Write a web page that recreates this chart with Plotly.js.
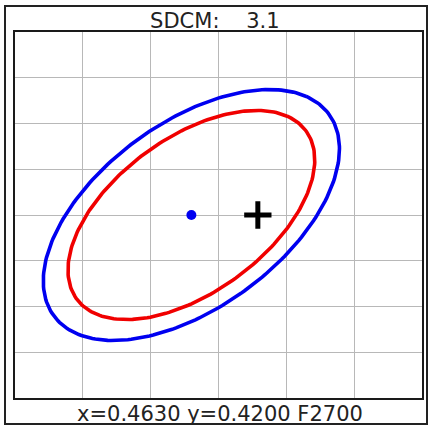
<!DOCTYPE html>
<html>
<head>
<meta charset="utf-8">
<script src="https://cdn.plot.ly/plotly-3.0.1.min.js"></script>
<style>
  html, body { margin: 0; padding: 0; background: #ffffff; }
  #chart { width: 428px; height: 430px; }
</style>
</head>
<body>
<div id="chart"></div>
<script>
// ---- data ----
const centerX = 0.4630;          // F2700 target chromaticity x
const centerY = 0.4200;          // F2700 target chromaticity y
const centerLabel = 'F2700';
const ellipseSteps = [6, 5];     // outer (blue), inner (red)
const macadamA = 0.00258;        // 1-step semi-major axis
const macadamB = 0.00137;        // 1-step semi-minor axis
const macadamThetaDeg = 56.8;    // orientation of the major axis
const measuredX = [0.4679];
const measuredY = [0.4200];
const sdcmValue = '3.1';
const xRange = [0.45, 0.48];
const yRange = [0.40, 0.44];
const gridStep = 0.005;

// ---- build ellipse outlines from the MacAdam parameters ----
function ellipse(steps) {
  const a = macadamA * steps, b = macadamB * steps;
  const th = macadamThetaDeg * Math.PI / 180;
  const xs = [], ys = [];
  const n = 240;
  for (let i = 0; i <= n; i++) {
    const t = 2 * Math.PI * i / n;
    const u = a * Math.cos(t), v = b * Math.sin(t);
    xs.push(centerX + u * Math.cos(th) - v * Math.sin(th));
    ys.push(centerY + u * Math.sin(th) + v * Math.cos(th));
  }
  return { xs, ys };
}

const colors = ['#0000f0', '#f00000'];
const traces = ellipseSteps.map((s, i) => {
  const e = ellipse(s);
  return {
    type: 'scatter', mode: 'lines', x: e.xs, y: e.ys,
    line: { color: colors[i], width: 3.6 },
    hoverinfo: 'skip', name: s + '-step'
  };
});
traces.push({
  type: 'scatter', mode: 'markers', x: [centerX], y: [centerY],
  marker: { color: '#0000f0', size: 10 }, hoverinfo: 'skip'
});
traces.push({
  type: 'scatter', mode: 'markers', x: measuredX, y: measuredY,
  marker: { symbol: 'cross-thin', size: 19.5, line: { color: '#000000', width: 5 } },
  hoverinfo: 'skip'
});

const font = "'DejaVu Sans', Verdana, sans-serif";
const NB = '\u00A0';
const layout = {
  width: 428, height: 430,
  margin: { l: 15, r: 6, t: 32, b: 32, pad: 0 },
  paper_bgcolor: '#ffffff', plot_bgcolor: '#ffffff',
  showlegend: false,
  title: {
    text: 'SDCM:' + NB + NB + NB + NB + sdcmValue,
    font: { family: font, size: 21, color: '#222222' },
    xref: 'container', yref: 'container', x: 0.502, xanchor: 'center',
    y: 1 - 20.9 / 430, yanchor: 'middle'
  },
  xaxis: {
    range: xRange, tick0: xRange[0], dtick: gridStep,
    showgrid: true, gridcolor: '#b8b8b8', gridwidth: 1,
    zeroline: false, showticklabels: false, ticks: '',
    showline: true, mirror: true, linecolor: '#1a1a1a', linewidth: 2,
    fixedrange: true
  },
  yaxis: {
    range: yRange, tick0: yRange[0], dtick: gridStep,
    showgrid: true, gridcolor: '#b8b8b8', gridwidth: 1,
    zeroline: false, showticklabels: false, ticks: '',
    showline: true, mirror: true, linecolor: '#1a1a1a', linewidth: 2,
    fixedrange: true
  },
  annotations: [{
    text: 'x=' + centerX.toFixed(4) + ' y=' + centerY.toFixed(4) + ' ' + centerLabel,
    xref: 'paper', yref: 'paper', x: (219.7 - 15) / 407, y: (398 - 413.6) / 366,
    xanchor: 'center', yanchor: 'middle', showarrow: false,
    font: { family: font, size: 21, color: '#222222' }
  }],
  shapes: [{
    type: 'rect', xref: 'paper', yref: 'paper',
    x0: (5 - 15) / 407, x1: (427 - 15) / 407,
    y0: (398 - 424) / 366, y1: (398 - 6) / 366,
    line: { color: '#222222', width: 2 }, fillcolor: 'rgba(0,0,0,0)', layer: 'below'
  }]
};

Plotly.newPlot('chart', traces, layout, { staticPlot: true, displayModeBar: false });
</script>
</body>
</html>
